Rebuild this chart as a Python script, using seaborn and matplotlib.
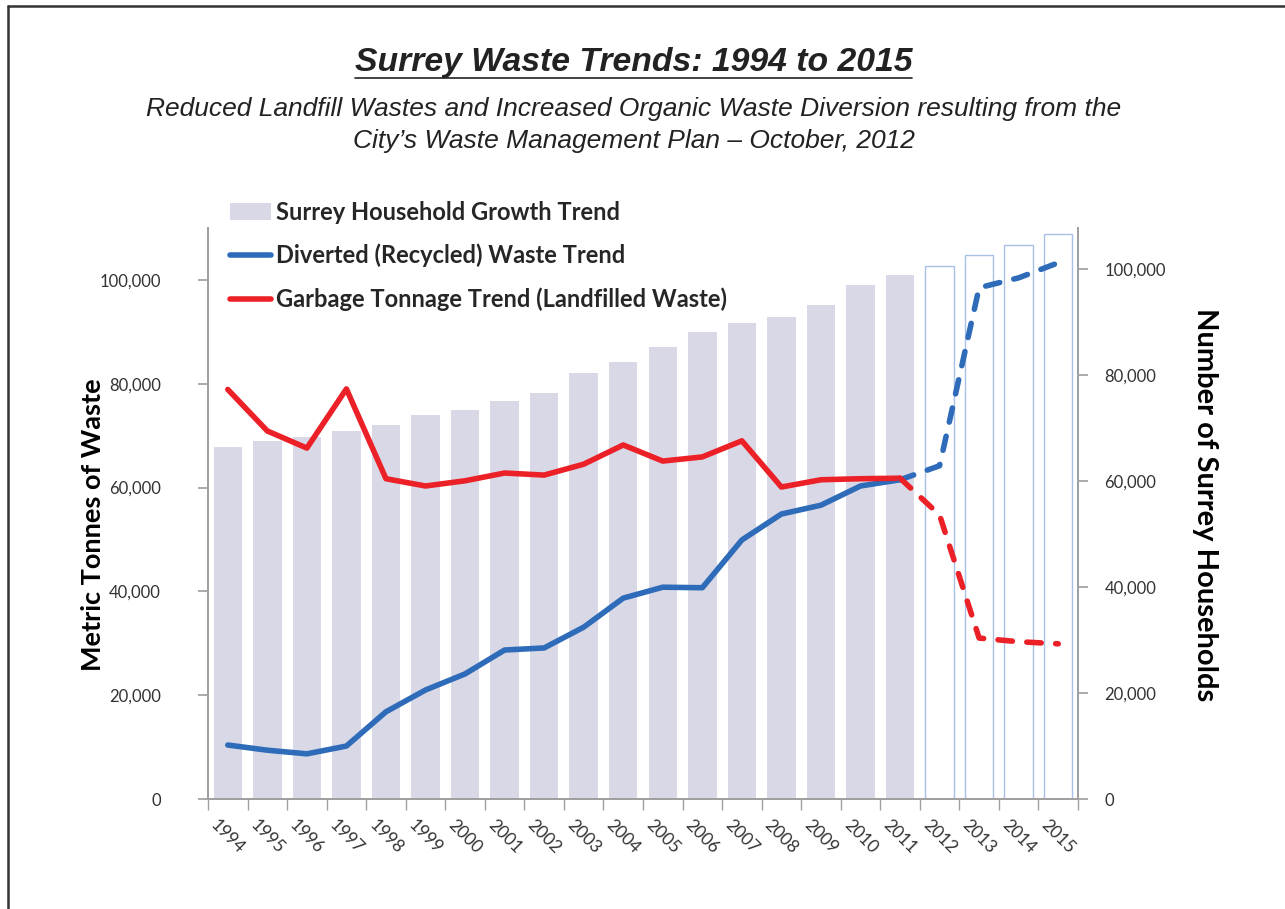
import numpy as np
import pandas as pd
import seaborn as sns
import matplotlib
matplotlib.use("Agg")
import matplotlib.pyplot as plt
from matplotlib.lines import Line2D
from matplotlib.patches import Patch
from matplotlib.ticker import FuncFormatter, MultipleLocator, FixedLocator

# ---------------- data ----------------
years = ["1994", "1995", "1996", "1997", "1998", "1999", "2000", "2001", "2002", "2003", "2004",
         "2005", "2006", "2007", "2008", "2009", "2010", "2011", "2012", "2013", "2014", "2015"]
households = [66400, 67600, 68300, 69400, 70600, 72500, 73400, 75100, 76600, 80400, 82500,
              85300, 88100, 89800, 90900, 93200, 97000, 98900, 100600, 102600, 104500, 106600]
diverted = [10400, 9400, 8700, 10200, 16800, 21000, 24100, 28700, 29100, 33100, 38700,
            40800, 40700, 49900, 54900, 56600, 60300, 61500, 64200, 98500, 100400, 103300]
garbage = [78900, 70900, 67600, 79000, 61700, 60300, 61300, 62800, 62400, 64500, 68200,
           65100, 65900, 69000, 60100, 61500, 61700, 61800, 54700, 31000, 30300, 29900]
last_actual = "2011"

title = "Surrey Waste Trends: 1994 to 2015"
subtitle = ("Reduced Landfill Wastes and Increased Organic Waste Diversion resulting from the\n"
            "City\u2019s Waste Management Plan \u2013 October, 2012")
legend_labels = ["Surrey Household Growth Trend", "Diverted (Recycled) Waste Trend",
                 "Garbage Tonnage Trend (Landfilled Waste)"]

BAR = "#D9D8E6"
BAR_EDGE = "#A9C0E6"
BLUE = "#2E6BB8"
RED = "#EC2027"
AX_GRAY = "#A0A0A0"

sns.set_theme(style="white")
plt.rcParams["font.family"] = ["Lato", "DejaVu Sans"]

fig = plt.figure(figsize=(12.85, 9.09), dpi=100)
ax = fig.add_axes([208 / 1285, 1 - 799 / 909, (1078 - 208) / 1285, (799 - 228) / 909])
ax2 = ax.twinx()
ax.set_zorder(ax2.get_zorder() + 1)
ax.patch.set_visible(False)

idx = np.arange(len(years))
split = years.index(last_actual)

# bars on right axis
df_bars = pd.DataFrame({"year": years, "households": households})
sns.barplot(data=df_bars, x="year", y="households", ax=ax2, color=BAR, width=0.72,
            saturation=1, edgecolor="none")
for i, p in enumerate(ax2.patches):
    if i > split:
        p.set_facecolor("white")
        p.set_edgecolor(BAR_EDGE)
        p.set_linewidth(1.0)

# lines on left axis
df = pd.DataFrame({"pos": idx, "diverted": diverted, "garbage": garbage})
solid = df.iloc[: split + 1]
dashed = df.iloc[split:]
lw = 4.0
sns.lineplot(data=solid, x="pos", y="diverted", ax=ax, color=BLUE, lw=lw, solid_capstyle="round")
sns.lineplot(data=solid, x="pos", y="garbage", ax=ax, color=RED, lw=lw, solid_capstyle="round")
l1 = sns.lineplot(data=dashed, x="pos", y="diverted", ax=ax, color=BLUE, lw=lw).lines[-1]
l1.set_dashes((2.6, 2.6)); l1.set_dash_capstyle("round")
l2 = sns.lineplot(data=dashed, x="pos", y="garbage", ax=ax, color=RED, lw=lw).lines[-1]
l2.set_dashes((2.6, 2.6)); l2.set_dash_capstyle("round")

# axes limits
ax.set_xlim(-0.5, len(years) - 0.5)
ax2.set_xlim(-0.5, len(years) - 0.5)
ax.set_ylim(0, 110000)
ax2.set_ylim(0, 107700)

fmt = FuncFormatter(lambda v, p: f"{int(v):,}")
for a in (ax, ax2):
    a.yaxis.set_major_locator(MultipleLocator(20000))
    a.yaxis.set_major_formatter(fmt)
    for s in a.spines.values():
        s.set_color(AX_GRAY)
        s.set_linewidth(1.3)
    a.spines["top"].set_visible(False)

ax.tick_params(axis="y", which="major", direction="out", length=7, color=AX_GRAY,
               labelsize=12, labelcolor="#333333", pad=27, left=True)
ax2.tick_params(axis="y", which="major", direction="out", length=7, color=AX_GRAY,
                labelsize=12, labelcolor="#333333", pad=12, right=True)
ax.set_ylabel("Metric Tonnes of Waste", fontsize=19.5, fontweight="bold", color="black")
ax.yaxis.set_label_coords(-0.118, 0.48)
ax2.set_ylabel("Number of Surrey Households", fontsize=21, fontweight="bold", rotation=-90,
               color="black")
ax2.yaxis.set_label_coords(1.161, 0.515)

# x axis: labels at centers, ticks at boundaries
ax.set_xlabel("")
ax2.set_xlabel("")
ax.set_xticks(idx)
ax.set_xticklabels(years, rotation=-45, ha="center", va="top", fontsize=12.5, color="#333333")
ax.tick_params(axis="x", which="major", length=0, pad=13)
ax.xaxis.set_minor_locator(FixedLocator(np.arange(-0.5, len(years), 1.0)))
ax.tick_params(axis="x", which="minor", direction="out", length=8, color=AX_GRAY, bottom=True)
ax2.tick_params(axis="x", bottom=False, labelbottom=False)

# legend
handles = [Patch(facecolor=BAR, edgecolor="none"),
           Line2D([], [], color=BLUE, lw=lw, solid_capstyle="round"),
           Line2D([], [], color=RED, lw=lw, solid_capstyle="round")]
leg = fig.legend(handles, legend_labels, loc="upper left", bbox_to_anchor=(230 / 1285, 1 - 201 / 909),
                 frameon=False, prop={"family": ["Lato", "DejaVu Sans"], "weight": "bold", "size": 17},
                 handlelength=1.75, handleheight=0.7, handletextpad=0.2, labelspacing=0.84,
                 borderaxespad=0, borderpad=0)

# titles
fig.text(633.5 / 1285, 1 - 63 / 909, title, ha="center", va="center", fontsize=24.3, fontweight="bold",
         style="italic", family=["Liberation Sans", "DejaVu Sans"], color="#222222")
fig.add_artist(Line2D([355 / 1285, 912 / 1285], [1 - 78 / 909, 1 - 78 / 909], color="#222222", lw=1.2))
fig.text(634 / 1285, 1 - 125 / 909, subtitle, ha="center", va="center", fontsize=19, style="italic",
         family=["Liberation Sans", "DejaVu Sans"], color="#222222", linespacing=1.45)

# frame border (left and top)
fig.add_artist(Line2D([8 / 1285, 8 / 1285], [0, 1 - 6 / 909], color="#333333", lw=1.8))
fig.add_artist(Line2D([8 / 1285, 1], [1 - 6 / 909, 1 - 6 / 909], color="#333333", lw=1.8))

fig.savefig("out.png", dpi=100)
